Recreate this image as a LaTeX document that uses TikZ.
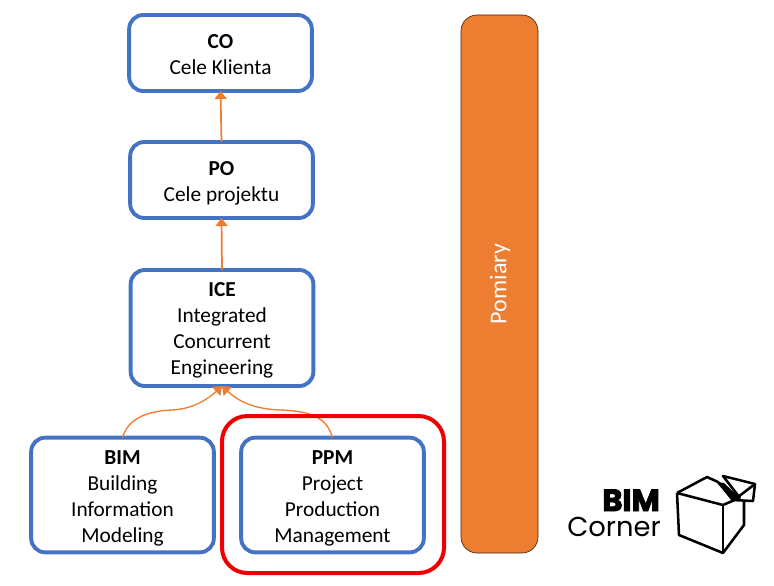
\documentclass[tikz,border=0pt]{standalone}
\usepackage{fontspec}
\setmainfont{Carlito}
\newfontfamily\logofont{Poppins}
\newfontfamily\logoheavy[FakeBold=3]{Poppins Bold}
\usetikzlibrary{arrows.meta}
\definecolor{boxblue}{RGB}{68,114,196}
\definecolor{barorange}{RGB}{237,125,49}
\definecolor{framered}{RGB}{238,0,0}
\newcommand{\boxhead}[2][16pt]{\rule{0pt}{#1}\textbf{#2}}
\tikzset{
  boxnode/.style={draw=boxblue,line width=2.9pt,rounded corners=10.5pt,fill=white,align=center,
    minimum width=137pt,outer sep=0pt,inner sep=0pt,
    font=\fontsize{16}{19.5}\selectfont},
  arrowline/.style={draw=barorange,line width=1.3pt,-{Triangle[length=6pt,width=9pt]}},
  curveline/.style={draw=barorange,line width=1pt,-{Triangle[length=6pt,width=9pt]}},
  logoline/.style={line width=1.9pt,line join=round}
}
\begin{document}
\begin{tikzpicture}[x=0.75pt,y=-0.75pt]
\useasboundingbox (0,0) rectangle (774,585);
\node[boxnode,minimum height=57pt] (co) at (220.5,53) {\boxhead[12.5pt]{CO}\\Cele Klienta};
\node[boxnode,minimum height=57pt] (po) at (221.5,180) {\boxhead{PO}\\Cele projektu};
\node[boxnode,minimum height=87pt] (ice) at (222,328) {\boxhead[14pt]{ICE}\\Integrated\\Concurrent\\Engineering};
\node[boxnode,minimum height=86pt] (bim) at (122.5,495) {\boxhead{BIM}\\Building\\Information\\Modeling};
\node[boxnode,minimum height=86pt] (ppm) at (332.5,495) {\boxhead{PPM}\\Project\\Production\\Management};
\draw[arrowline] (po.north) -- (co.south);
\draw[arrowline] (ice.north) -- (po.south);
\draw[curveline] (bim.north) .. controls (128,418) and (148,411) .. (172,410) .. controls (192,409) and (207,400) .. (ice.south);
\draw[curveline] (ppm.north) .. controls (327,418) and (312,411) .. (280,410) .. controls (252,409) and (237,400) .. (ice.south);
\draw[draw=framered,line width=3pt,rounded corners=19pt] (222,416) rectangle (444,573);
\draw[fill=barorange,draw=black!70!barorange,line width=0.5pt,rounded corners=12pt] (461,15) rectangle (538,553);
\node[rotate=90,text=white,font=\fontsize{18}{18}\selectfont] (pomiary) at (500,284) {Pomiary};
% logo
\node[anchor=base east,inner sep=0pt,font=\logoheavy\fontsize{23}{23}\selectfont] (logobim) at (660,511) {BIM};
\node[anchor=base east,inner sep=0pt,font=\logofont\fontsize{20.5}{20.5}\selectfont] (logocorner) at (661,536) {Corner};
\draw[logoline] (677,493) -- (707,477) -- (718,482) -- (733,500);
\draw[logoline] (677,493) -- (723,505) -- (737,499);
\draw[logoline] (677,493) -- (679,535) -- (723,553) -- (744,525) -- (744,500);
\draw[logoline] (723,505) -- (723,553);
\draw[logoline] (740,498) -- (723,476) -- (755,484) -- (753,501) -- (732,500);
\draw[logoline] (755,484) -- (738,497);
\fill (718,482) -- (724,483) -- (741,499) -- (731,500) -- cycle;
\end{tikzpicture}
\end{document}
